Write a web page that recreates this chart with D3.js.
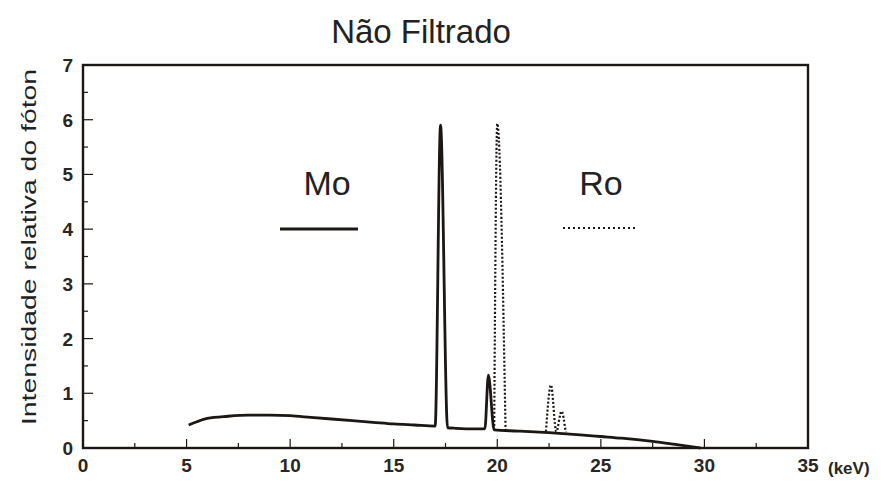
<!DOCTYPE html>
<html>
<head>
<meta charset="utf-8">
<script src="https://cdn.jsdelivr.net/npm/d3@7"></script>
<style>
  body { margin: 0; background: #fff; }
  text { font-family: "Liberation Sans", Arial, sans-serif; }
</style>
</head>
<body>
<svg></svg>
<script>
// Mo spectrum (solid line), keV / relative intensity
const moKeV = [5.1, 5.5, 6, 7, 8, 9, 10, 11, 12, 13, 14, 15, 16, 17.0, 17.26, 17.6, 18, 19, 19.4, 19.57, 19.85, 21, 22.5, 24, 25, 26, 27.5, 28.5, 29.8]
const moVal = [0.42, 0.48, 0.54, 0.58, 0.6, 0.6, 0.59, 0.56, 0.53, 0.5, 0.47, 0.44, 0.42, 0.40, 5.9, 0.37, 0.36, 0.35, 0.35, 1.33, 0.33, 0.31, 0.28, 0.24, 0.21, 0.18, 0.12, 0.07, 0.0]

// Rh spectrum peaks (dotted line), null = gap
const rhKeV = [19.85, 20.0, 20.4, 21, 22.35, 22.59, 22.85, 23.1, 23.3]
const rhVal = [0.33, 5.93, 0.32, null, 0.3, 1.15, 0.3, 0.67, 0.29]

const xTicks = [0, 5, 10, 15, 20, 25, 30, 35]
const yTicks = [0, 1, 2, 3, 4, 5, 6, 7]

const svg = d3.select("svg")
    .attr("width", 881)
    .attr("height", 481)

const ink = "#1c1712"

const scaleX = d3.scaleLinear().domain([0, 35]).range([83, 808])
const scaleY = d3.scaleLinear().domain([0, 7]).range([448, 65])

// minor ticks (inside)
svg.append("g")
    .selectAll("line")
    .data(d3.range(0, 35.1, 2.5))
    .enter()
    .append("line")
    .attr("x1", d => scaleX(d))
    .attr("x2", d => scaleX(d))
    .attr("y1", 448)
    .attr("y2", d => d % 5 === 0 ? 439 : 443)
    .attr("stroke", ink)
    .attr("stroke-width", 1.2)

svg.append("g")
    .selectAll("line")
    .data(d3.range(0, 7.01, 0.5))
    .enter()
    .append("line")
    .attr("x1", 83)
    .attr("x2", d => d % 1 === 0 ? 93 : 88)
    .attr("y1", d => scaleY(d))
    .attr("y2", d => scaleY(d))
    .attr("stroke", ink)
    .attr("stroke-width", 1.2)

// frame
svg.append("rect")
    .attr("x", 83)
    .attr("y", 65)
    .attr("width", 725)
    .attr("height", 383)
    .attr("fill", "none")
    .attr("stroke", ink)
    .attr("stroke-width", 2.4)

// tick labels
svg.append("g")
    .selectAll("text")
    .data(xTicks)
    .enter()
    .append("text")
    .attr("x", d => scaleX(d))
    .attr("y", 472)
    .attr("text-anchor", "middle")
    .attr("font-size", 19)
    .attr("font-weight", "bold")
    .attr("fill", "#2a2622")
    .text(d => d)

svg.append("g")
    .selectAll("text")
    .data(yTicks)
    .enter()
    .append("text")
    .attr("x", 73)
    .attr("y", d => scaleY(d) + 7)
    .attr("text-anchor", "end")
    .attr("font-size", 19)
    .attr("font-weight", "bold")
    .attr("fill", "#2a2622")
    .text(d => d)

svg.append("text")
    .attr("x", 828)
    .attr("y", 474)
    .attr("font-size", 17)
    .attr("font-weight", "bold")
    .attr("fill", "#2a2622")
    .text("(keV)")

// title and axis label
svg.append("text")
    .attr("x", 421)
    .attr("y", 43)
    .attr("text-anchor", "middle")
    .attr("font-size", 33)
    .attr("fill", "#222")
    .text("Não Filtrado")

// the scanned label is stretched along its length
svg.append("text")
    .attr("transform", "translate(36, 247) rotate(-90) scale(1.35, 1)")
    .attr("text-anchor", "middle")
    .attr("font-size", 21)
    .attr("fill", "#222")
    .text("Intensidade relativa do fóton")

// spectra
const moData = moKeV.map((k, i) => ({ k: k, v: moVal[i] }))
const rhData = rhKeV.map((k, i) => ({ k: k, v: rhVal[i] }))

const line = d3.line()
    .defined(d => d.v != null)
    .x(d => scaleX(d.k))
    .y(d => scaleY(d.v))
    .curve(d3.curveMonotoneX)

svg.append("path")
    .attr("d", line(moData))
    .attr("fill", "none")
    .attr("stroke", ink)
    .attr("stroke-width", 2.8)

svg.append("path")
    .attr("d", line(rhData))
    .attr("fill", "none")
    .attr("stroke", ink)
    .attr("stroke-width", 2.2)
    .attr("stroke-dasharray", "2,2")

// legend
svg.append("text")
    .attr("x", 327)
    .attr("y", 195)
    .attr("text-anchor", "middle")
    .attr("font-size", 34)
    .attr("fill", "#222")
    .text("Mo")

svg.append("line")
    .attr("x1", 280).attr("x2", 358)
    .attr("y1", 229).attr("y2", 229)
    .attr("stroke", ink)
    .attr("stroke-width", 3)

svg.append("text")
    .attr("x", 601)
    .attr("y", 195)
    .attr("text-anchor", "middle")
    .attr("font-size", 34)
    .attr("fill", "#222")
    .text("Ro")

svg.append("line")
    .attr("x1", 563).attr("x2", 637)
    .attr("y1", 228).attr("y2", 228)
    .attr("stroke", ink)
    .attr("stroke-width", 2)
    .attr("stroke-dasharray", "2,3")
</script>
</body>
</html>
